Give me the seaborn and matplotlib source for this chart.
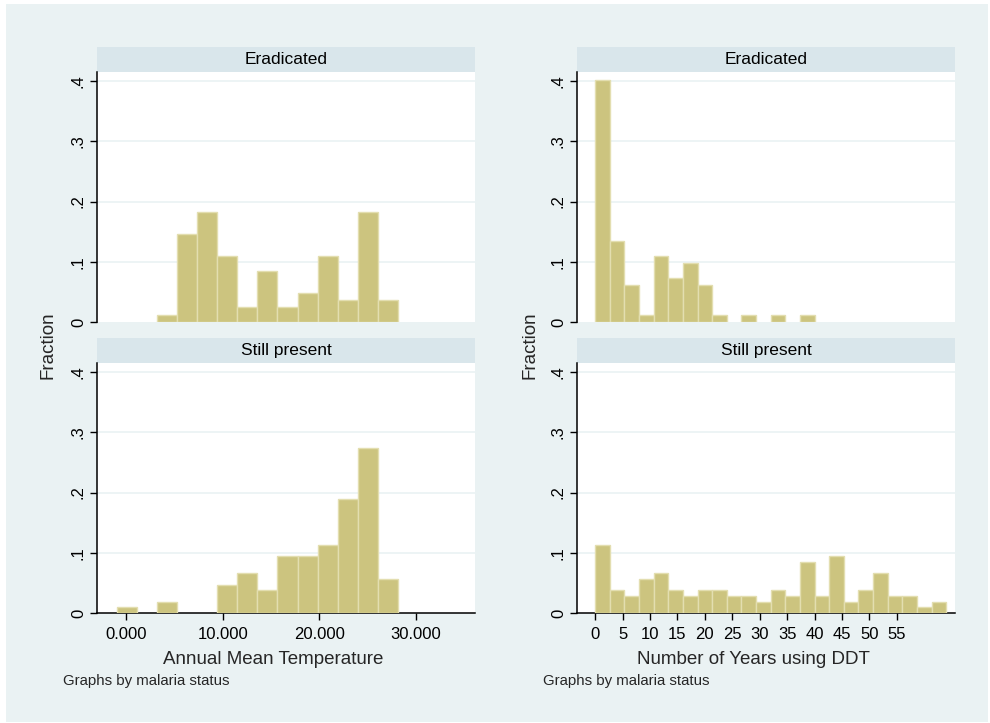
import numpy as np
import pandas as pd
import matplotlib
matplotlib.use('Agg')
import matplotlib.pyplot as plt
from matplotlib.patches import Rectangle
import seaborn as sns

# Histogram data (fraction per bin)
temp_edges = list(np.linspace(-0.93, 28.12, 15))
temp_eradicated = [0, 0, 1/82, 12/82, 15/82, 9/82, 2/82, 7/82, 2/82, 4/82, 9/82, 3/82, 15/82, 3/82]
temp_present = [1/106, 0, 2/106, 0, 0, 5/106, 7/106, 4/106, 10/106, 10/106, 12/106, 20/106, 29/106, 6/106]

ddt_edges = list(np.linspace(0, 64, 25))
ddt_eradicated = [33/82, 11/82, 5/82, 1/82, 9/82, 6/82, 8/82, 5/82, 1/82, 0, 1/82, 0,
                  1/82, 0, 1/82, 0, 0, 0, 0, 0, 0, 0, 0, 0]
ddt_present = [12/106, 4/106, 3/106, 6/106, 7/106, 4/106, 3/106, 4/106, 4/106, 3/106, 3/106, 2/106,
               4/106, 3/106, 9/106, 3/106, 10/106, 2/106, 4/106, 7/106, 3/106, 3/106, 1/106, 2/106]

panel_titles = ['Eradicated', 'Still present']
temp_ticks = [0, 10, 20, 30]
temp_ticklabels = ['0.000', '10.000', '20.000', '30.000']
ddt_ticks = list(range(0, 60, 5))
y_ticks = [0, 0.1, 0.2, 0.3, 0.4]
y_ticklabels = ['0', '.1', '.2', '.3', '.4']

OUTER = '#EAF2F3'
STRIP = '#D9E6EB'
BAR = '#CCC47F'
BAR_EDGE = '#E3DEB0'

sns.set_style('white')
plt.rcParams['font.family'] = ['Liberation Sans', 'DejaVu Sans']

W, H = 990, 723
fig = plt.figure(figsize=(W / 100, H / 100), dpi=100)
fig.patch.set_facecolor('white')
fig.patches.append(Rectangle((6 / W, 1 - 722 / H), 982 / W, 718 / H, transform=fig.transFigure,
                             facecolor=OUTER, edgecolor='none', zorder=-10))


def px_axes(x0, y0, x1, y1):
    return fig.add_axes([x0 / W, 1 - y1 / H, (x1 - x0) / W, (y1 - y0) / H])


def draw_panel(ax, edges, fracs, title, xlim, show_x, xticks=None, xticklabels=None):
    centers = [(a + b) / 2 for a, b in zip(edges[:-1], edges[1:])]
    d = pd.DataFrame({'x': centers, 'w': fracs})
    sns.histplot(data=d, x='x', weights='w', bins=edges, ax=ax, color=BAR,
                 edgecolor=BAR_EDGE, linewidth=1.0, alpha=1, zorder=3)
    # empty bins should not leave an outline at zero
    for p in list(ax.patches):
        if p.get_height() == 0:
            p.remove()
    ax.set_xlim(*xlim)
    ax.set_ylim(0, 0.415)
    ax.set_facecolor('white')
    ax.set_xlabel('')
    ax.set_ylabel('')
    ax.set_yticks(y_ticks)
    ax.set_yticklabels(y_ticklabels, rotation=90, va='center', fontsize=12)
    for v in y_ticks[1:]:
        ax.axhline(v, color=OUTER, lw=1.2, zorder=1)
    for s in ['top', 'right']:
        ax.spines[s].set_visible(False)
    ax.spines['left'].set_color('black')
    ax.spines['left'].set_linewidth(1.1)
    ax.tick_params(axis='y', direction='out', length=5, width=1, pad=3, left=True, colors='black')
    if show_x:
        ax.spines['bottom'].set_color('black')
        ax.spines['bottom'].set_linewidth(1.1)
        ax.set_xticks(xticks)
        ax.set_xticklabels(xticklabels if xticklabels else [str(t) for t in xticks], fontsize=12)
        ax.tick_params(axis='x', direction='out', length=5, width=1, pad=5, bottom=True, colors='black')
    else:
        ax.spines['bottom'].set_visible(False)
        ax.set_xticks([])
    ax.add_patch(Rectangle((0, 1), 1, 25 / 250, transform=ax.transAxes, facecolor=STRIP,
                           edgecolor='none', clip_on=False))
    ax.text(0.5, 1 + 12.5 / 250, title, transform=ax.transAxes, ha='center', va='center',
            fontsize=12.5, color='black')


# Left: Annual Mean Temperature
ax1 = px_axes(97, 72, 475, 322)
draw_panel(ax1, temp_edges, temp_eradicated, panel_titles[0], (-3.0, 36.1), False)
ax2 = px_axes(97, 363, 475, 613)
draw_panel(ax2, temp_edges, temp_present, panel_titles[1], (-3.0, 36.1), True,
           temp_ticks, temp_ticklabels)

# Right: Number of Years using DDT
ax3 = px_axes(577, 72, 955, 322)
draw_panel(ax3, ddt_edges, ddt_eradicated, panel_titles[0], (-3.3, 65.6), False)
ax4 = px_axes(577, 363, 955, 613)
draw_panel(ax4, ddt_edges, ddt_present, panel_titles[1], (-3.3, 65.6), True, ddt_ticks)

# Titles and notes
fig.text(48 / W, 1 - 345 / H, 'Fraction', rotation=90, ha='center', va='center', fontsize=13.5)
fig.text(530 / W, 1 - 345 / H, 'Fraction', rotation=90, ha='center', va='center', fontsize=13.5)
fig.text(273 / W, 1 - 659 / H, 'Annual Mean Temperature', ha='center', va='center', fontsize=13.5)
fig.text(753 / W, 1 - 659 / H, 'Number of Years using DDT', ha='center', va='center', fontsize=13.5)
fig.text(63 / W, 1 - 681 / H, 'Graphs by malaria status', ha='left', va='center', fontsize=10.8)
fig.text(543 / W, 1 - 681 / H, 'Graphs by malaria status', ha='left', va='center', fontsize=10.8)

fig.savefig('out.png', dpi=100, facecolor=fig.get_facecolor())
